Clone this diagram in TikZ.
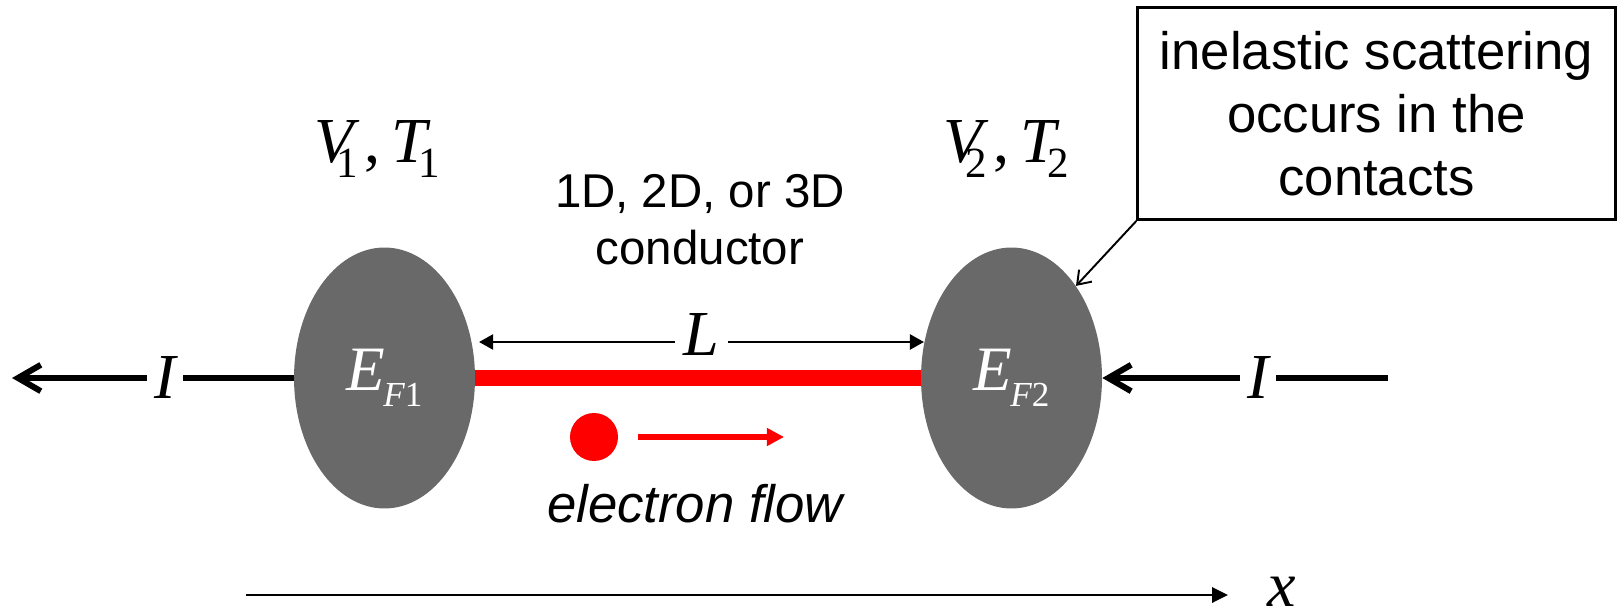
\documentclass[tikz,border=0pt]{standalone}
\usepackage{fontspec}
\setmainfont{Liberation Serif}
\setsansfont{Liberation Sans}
\usepackage{xcolor}
\usetikzlibrary{arrows.meta,positioning,shapes.geometric,backgrounds}

\definecolor{contgray}{RGB}{105,105,105}
\newcommand{\vsub}[1]{\raisebox{-8.5pt}{\fontsize{24.5}{24.5}\selectfont #1}}
\newcommand{\esub}[1]{\raisebox{-9pt}{\fontsize{20}{20}\selectfont #1}}

\begin{document}
\begin{tikzpicture}[x=0.02cm, y=-0.02cm,
  contact/.style={ellipse, fill=contgray, minimum width=3.62cm, minimum height=5.22cm,
    inner sep=0pt, text=white, font=\fontsize{36}{36}\selectfont},
  symlab/.style={font=\fontsize{36.5}{36.5}\selectfont, inner sep=1pt},
  txtlab/.style={font=\sffamily\fontsize{27}{32.4}\selectfont, align=center},
  scatbox/.style={draw, line width=1.7pt, minimum width=9.55cm, minimum height=4.24cm,
    font=\sffamily\fontsize{30}{35.8}\selectfont, align=center},
  wire/.style={red, line width=9pt},
  dimarr/.style={{Triangle[length=8pt,width=8.5pt]}-{Triangle[length=8pt,width=8.5pt]}, line width=1.4pt},
  flowarr/.style={-{Triangle[length=9.7pt,width=9.7pt]}, red, line width=3.4pt},
  curarr/.style={-{Straight Barb[length=13pt,width=15pt]}, line width=3.4pt},
  curline/.style={line width=3.4pt},
  ptrarr/.style={-{Straight Barb[length=7pt,width=10pt]}, line width=1.1pt},
  axisarr/.style={-{Triangle[length=9pt,width=8.5pt]}, line width=1.7pt},
]
\useasboundingbox (0,0) rectangle (1618,607);

% --- Contacts ---
\node[contact] (contL) at (384.5,378) {\itshape E\kern-1pt\esub{\itshape F\upshape 1}};
\node[contact] (contR) at (1011.5,378) {\itshape E\kern-1pt\esub{\itshape F\upshape 2}};

% --- Contact labels ---
\node[symlab, anchor=base] (vtL) at (377,163)
  {\itshape V\kern-10pt\vsub{\upshape 1}\kern4pt\upshape,\kern6pt\itshape T\kern-5pt\vsub{\upshape 1}};
\node[symlab, anchor=base] (vtR) at (1006,163)
  {\itshape V\kern-10pt\vsub{\upshape 2}\kern4pt\upshape,\kern6pt\itshape T\kern-5pt\vsub{\upshape 2}};

% --- Conductor ---
\begin{scope}[on background layer]
  \draw[wire] (contL.east) -- (contR.west);
\end{scope}
\node[txtlab] (cond) at (700,220) {1D, 2D, or 3D\\conductor};

% --- Length L ---
\coordinate (dimL) at (479,342);
\coordinate (dimR) at (924,342);
\draw[dimarr] (dimL) -- node[symlab, fill=white, inner sep=5pt, yshift=4pt] (lenL) {\itshape L} (dimR);

% --- Electron flow ---
\node[circle, fill=red, minimum size=0.96cm, inner sep=0pt] (elec) at (594,437) {};
\coordinate (flowtip) at (784,437);
\draw[flowarr, shorten <=0.4cm] (elec) -- (flowtip);
\node[txtlab, font=\sffamily\itshape\fontsize{30}{36}\selectfont, anchor=base] (flowlab) at (695,522) {electron flow};

% --- Currents ---
\node[symlab, inner sep=4pt] (curL) at (165,378) {\itshape I};
\coordinate (curLtip) at (12,378);
\draw[curarr] (curL) -- (curLtip);
\draw[curline] (contL.west) -- (curL);
\node[symlab, inner sep=4pt] (curR) at (1258,378) {\itshape I};
\coordinate (curRend) at (1388,378);
\draw[curline] (curRend) -- (curR);
\draw[curarr] (curR) -- (contR.east);

% --- Scattering note ---
\node[scatbox] (scat) at (1376.5,113.5) {inelastic scattering\\occurs in the\\contacts};
\draw[ptrarr] (scat.south west) -- (contR.55);

% --- Position axis ---
\coordinate (axisS) at (246,595);
\coordinate (axisE) at (1228,595);
\draw[axisarr] (axisS) -- (axisE);
\node[symlab, anchor=base west, inner sep=0pt] (xlab) at (1267,606) {\itshape x};
\end{tikzpicture}
\end{document}
